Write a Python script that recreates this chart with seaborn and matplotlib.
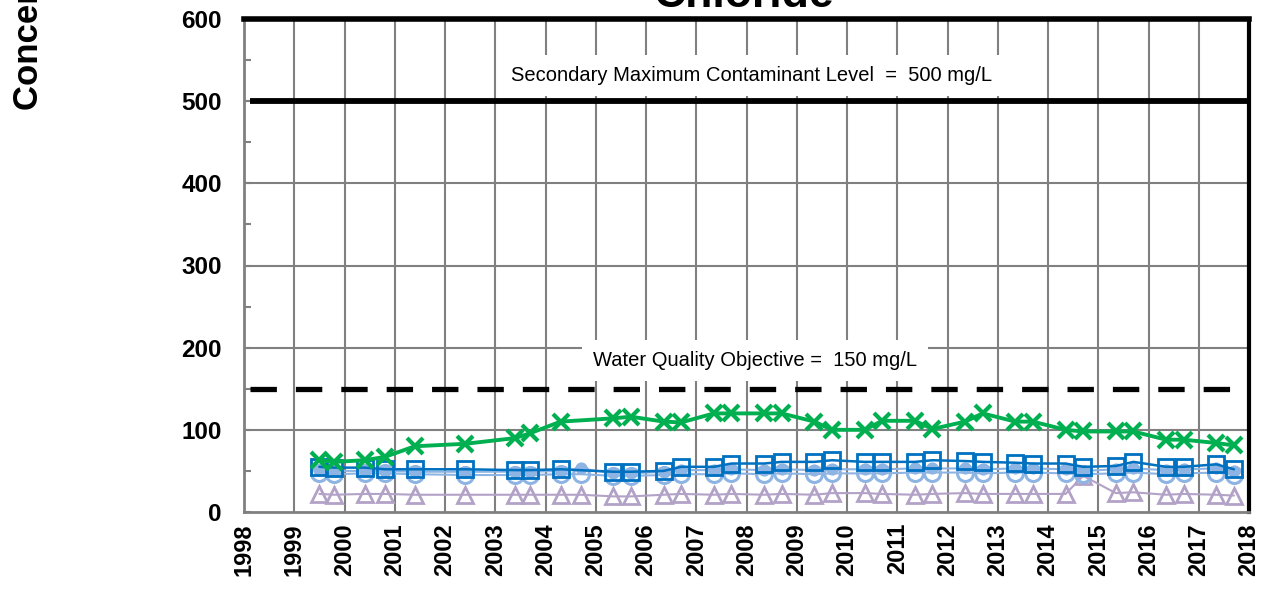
import numpy as np
import pandas as pd
import matplotlib
matplotlib.use("Agg")
import matplotlib.pyplot as plt
import seaborn as sns
from matplotlib.ticker import MultipleLocator

# Sample dates (decimal years)
dates_all = [1999.5, 1999.8, 2000.4, 2000.8, 2001.4, 2002.4, 2003.4, 2003.7, 2004.3, 2004.7,
             2005.35, 2005.7, 2006.35, 2006.7, 2007.35, 2007.7, 2008.35, 2008.7, 2009.35, 2009.7,
             2010.35, 2010.7, 2011.35, 2011.7, 2012.35, 2012.7, 2013.35, 2013.7, 2014.35, 2014.7,
             2015.35, 2015.7, 2016.35, 2016.7, 2017.35, 2017.7]
dates_main = [d for d in dates_all if d != 2004.7]

green_x = [63, 61, 63, 67, 80, 83, 90, 96, 110, 114, 116, 110, 109, 120, 120, 120, 120, 110,
           100, 100, 111, 111, 101, 110, 120, 110, 110, 100, 98, 98, 98, 88, 88, 84, 81]
blue_sq = [55, 54, 54, 52, 52, 52, 51, 51, 52, 49, 49, 50, 55, 55, 59, 59, 61, 61, 63, 61,
           61, 61, 63, 62, 61, 60, 59, 59, 55, 56, 61, 55, 55, 58, 52]
lt_filled = [51, 50, 50, 50, 49, 49, 49, 49, 50, 53, 47, 47, 49, 51, 51, 52, 51, 52, 51, 52,
             52, 52, 53, 53, 53, 52, 53, 53, 52, 50, 52, 53, 51, 52, 53, 50]
lt_hollow = [47, 46, 47, 47, 46, 45, 45, 45, 46, 46, 44, 44, 45, 46, 46, 47, 46, 47, 46, 47,
             47, 47, 48, 48, 48, 47, 48, 48, 47, 46, 47, 48, 46, 47, 48, 45]
purple_tri = [22, 21, 22, 22, 21, 21, 21, 21, 21, 21, 19, 19, 21, 22, 21, 22, 21, 22, 21, 23,
              23, 22, 21, 22, 23, 22, 22, 22, 22, 44, 23, 24, 21, 22, 21, 20]

smcl = 500
wqo = 150
years = list(range(1998, 2019))

sns.set_style("white")
plt.rcParams['font.family'] = ['Liberation Sans', 'DejaVu Sans']
plt.rcParams['text.color'] = 'black'

fig = plt.figure(figsize=(12.62, 5.91), dpi=100)
ax = fig.add_axes([244 / 1262, 1 - 512 / 591, (1249 - 244) / 1262, (512 - 19) / 591])

# grid
for y in range(100, 600, 100):
    ax.axhline(y, color='#808080', lw=1.5, zorder=0)
for yr in years[1:-1]:
    ax.axvline(yr, color='#808080', lw=1.5, zorder=0)

# reference lines
ax.plot([1998.12, 2018], [smcl, smcl], color='black', lw=4.2, solid_capstyle='butt', zorder=2)
ax.plot([1998.12, 2018], [wqo, wqo], color='black', lw=3.8, dashes=(5.0, 3.6), zorder=2)

ax.text(2008.09, 531, 'Secondary Maximum Contaminant Level  =  500 mg/L', ha='center', va='center',
        fontsize=14.5, color='black', zorder=3, bbox=dict(facecolor='white', edgecolor='none', pad=8))
ax.text(2008.17, 184, 'Water Quality Objective =  150 mg/L', ha='center', va='center',
        fontsize=14.5, color='black', zorder=3, bbox=dict(facecolor='white', edgecolor='none', pad=8))

# series
sns.lineplot(x=dates_all, y=purple_tri, ax=ax, color='#B3A2C7', lw=1.5, marker='^', ms=11.5,
             markerfacecolor='none', markeredgecolor='#B3A2C7', markeredgewidth=2, zorder=4)
sns.lineplot(x=dates_all, y=lt_hollow, ax=ax, color='#8DB4E2', lw=1.5, marker='o', ms=11.5,
             markerfacecolor='none', markeredgecolor='#8DB4E2', markeredgewidth=2.2, zorder=4)
sns.lineplot(x=dates_all, y=lt_filled, ax=ax, color='#8DB4E2', lw=1.5, marker='o', ms=8,
             markerfacecolor='#8DB4E2', markeredgecolor='#8DB4E2', zorder=4)
sns.lineplot(x=dates_main, y=blue_sq, ax=ax, color='#0070C0', lw=1.8, marker='s', ms=11.5,
             markerfacecolor='none', markeredgecolor='#0070C0', markeredgewidth=2, zorder=5)
sns.lineplot(x=dates_main, y=green_x, ax=ax, color='#00B050', lw=2.8, marker='x', ms=11.5,
             markeredgecolor='#00B050', markeredgewidth=3, zorder=6)

ax.set_xlim(1998, 2018)
ax.set_ylim(0, 600)
ax.set_xticks(years)
ax.set_xticklabels([str(y) for y in years], rotation=90, fontsize=17, fontweight='bold')
ax.yaxis.set_major_locator(MultipleLocator(100))
ax.yaxis.set_minor_locator(MultipleLocator(50))
for lbl in ax.get_yticklabels():
    lbl.set_fontweight('bold')
    lbl.set_fontsize(17.5)
ax.tick_params(axis='x', direction='out', length=5, color='#808080', width=1.5, pad=3,
               labelcolor='black')
ax.tick_params(axis='y', which='both', direction='in', length=5, color='#808080', width=1.5, pad=16,
               labelcolor='black')
ax.tick_params(axis='y', which='major', left=True)
ax.tick_params(axis='y', which='minor', left=True, length=5)
ax.set_xlabel('')
ax.set_ylabel('')

for side in ['left', 'bottom']:
    ax.spines[side].set_color('#808080')
    ax.spines[side].set_linewidth(2)
ax.spines['top'].set_color('black')
ax.spines['top'].set_linewidth(4)
ax.spines['right'].set_color('black')
ax.spines['right'].set_linewidth(3)

fig.text(743 / 1262, 1 - 7 / 591, 'Chloride', ha='center', va='baseline', fontsize=32,
         fontweight='bold', color='black')
fig.text(29 / 1262, 1 - 110 / 591, 'Concentration (mg/L)', rotation=90, ha='center', va='bottom',
         fontsize=25, fontweight='bold', color='black')

fig.savefig('out.png', dpi=100)
